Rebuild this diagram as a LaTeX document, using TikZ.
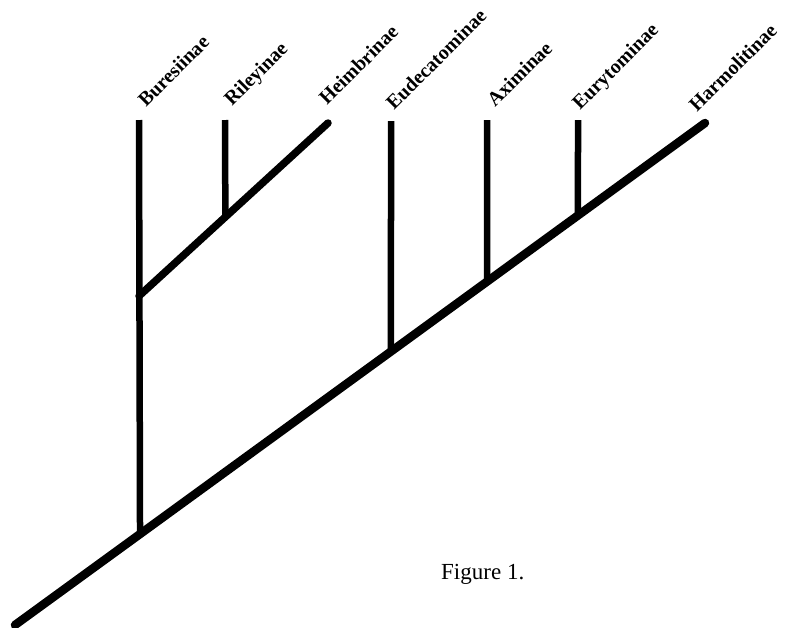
\documentclass[tikz,border=0pt]{standalone}
\usepackage{fontspec}
\setmainfont{Liberation Serif}
\usetikzlibrary{calc}
\begin{document}
\begin{tikzpicture}[x=1pt,y=-1pt,
  branch/.style={line width=6.5pt},
  heim/.style={line width=7.5pt, line cap=round},
  trunk/.style={line width=8.5pt, line cap=round},
  lab/.style={font=\bfseries\fontsize{20}{21}\selectfont, rotate=45, anchor=base west, inner sep=0pt},
  fig/.style={font=\fontsize{23}{26}\selectfont, anchor=base west, inner sep=0pt}]
\useasboundingbox (0,0) rectangle (789,627);
% trunk
\coordinate (root) at (15,625);
\coordinate (harT) at (705,123);
\coordinate (jB) at ($(root)!0.1812!(harT)$);
\coordinate (jE) at ($(root)!0.5449!(harT)$);
\coordinate (jA) at ($(root)!0.6841!(harT)$);
\coordinate (jU) at ($(root)!0.8159!(harT)$);
% tips
\coordinate (burT) at (139,120);
\coordinate (rilT) at (225,120);
\coordinate (heiT) at (328,123);
\coordinate (eudT) at (391,121);
\coordinate (axiT) at (487,120);
\coordinate (eurT) at (578,120);
\coordinate (jH) at (139,296);
\coordinate (jR) at ($(jH)!0.457!(heiT)$);
% branches
\draw[trunk] (root) -- (harT);
\draw[branch] (jB) -- (burT);
\draw[heim] (jH) -- (heiT);
\draw[branch] (jR) -- (rilT);
\draw[branch] (jE) -- (eudT);
\draw[branch] (jA) -- (axiT);
\draw[branch] (jU) -- (eurT);
% labels
\node[lab] (burL) at (146,108) {Buresiinae};
\node[lab] (rilL) at (232,107) {Rileyinae};
\node[lab] (heiL) at (327,106) {Heimbrinae};
\node[lab] (eudL) at (394,111) {Eudecatominae};
\node[lab] (axiL) at (495,108) {Aximinae};
\node[lab] (eurL) at (580,111) {Eurytominae};
\node[lab] (harL) at (697,113) {Harmolitinae};
\node[fig] (figL) at (441,579) {Figure 1.};
\end{tikzpicture}
\end{document}
